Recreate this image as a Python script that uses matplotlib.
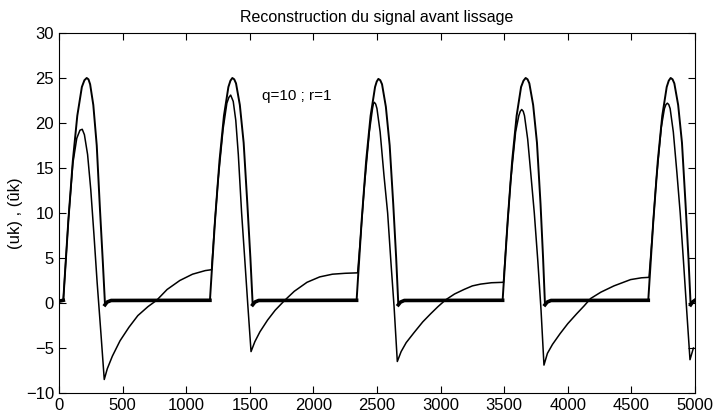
import matplotlib
matplotlib.use("Agg")
import matplotlib.pyplot as plt
import numpy as np

plt.rcParams['font.family'] = ['Liberation Sans', 'DejaVu Sans']

# true signal u(k): sample index / value
k_true = [0, 34, 46, 74, 109, 144, 180, 200, 218, 232, 245, 270, 297, 322, 345, 362, 378, 410,
          1187, 1199, 1227, 1262, 1297, 1332, 1348, 1363, 1378, 1392, 1422, 1452, 1481, 1505, 1523, 1540, 1570,
          2340, 2352, 2380, 2415, 2450, 2485, 2498, 2511, 2526, 2540, 2570, 2600, 2628, 2651, 2668, 2685, 2715,
          3488, 3500, 3528, 3563, 3598, 3633, 3652, 3669, 3684, 3698, 3728, 3758, 3786, 3806, 3821, 3838, 3868,
          4633, 4645, 4673, 4708, 4743, 4778, 4794, 4809, 4824, 4838, 4868, 4898, 4926, 4949, 4966, 4980, 5000]
u_true = [0.2, 0.3, 3.0, 9.2, 15.8, 20.8, 24.0, 24.75, 25.0, 24.85, 24.3, 22.0, 17.5, 10.5, 4.5, -0.2, 0.1, 0.28,
          0.3, 3.0, 9.2, 15.8, 20.8, 24.0, 24.7, 25.0, 24.85, 24.4, 22.0, 17.8, 11.0, 5.0, -0.2, 0.1, 0.28,
          0.3, 3.0, 9.2, 15.8, 20.8, 24.0, 24.6, 24.9, 24.75, 24.3, 21.8, 17.5, 11.0, 5.0, -0.2, 0.1, 0.28,
          0.3, 3.0, 9.2, 15.8, 20.8, 24.0, 24.7, 25.0, 24.85, 24.4, 22.0, 17.8, 11.0, 5.0, -0.2, 0.1, 0.28,
          0.3, 3.0, 9.2, 15.8, 20.8, 24.0, 24.7, 25.0, 24.85, 24.4, 22.0, 17.8, 11.0, 5.0, -0.2, 0.1, 0.3]

# reconstructed signal (u^k)
k_rec = [0, 34, 46, 74, 109, 140, 165, 183, 200, 225, 250, 275, 300, 330, 356,
         380, 420, 480, 550, 620, 700, 768, 850, 950, 1050, 1150, 1200,
         1222, 1250, 1290, 1320, 1336, 1350, 1370, 1390, 1410, 1436, 1460, 1485, 1510,
         1540, 1580, 1640, 1700, 1775, 1850, 1950, 2050, 2150, 2250, 2348,
         2372, 2400, 2440, 2465, 2472, 2479, 2490, 2500, 2525, 2555, 2584, 2610, 2635, 2660,
         2690, 2730, 2791, 2860, 2922, 2980, 3040, 3110, 3184, 3250, 3315, 3400, 3495,
         3520, 3550, 3590, 3615, 3627, 3638, 3650, 3660, 3685, 3710, 3737, 3765, 3790, 3813,
         3840, 3880, 3940, 4000, 4070, 4130, 4180, 4260, 4363, 4494, 4580, 4639,
         4662, 4695, 4735, 4760, 4772, 4783, 4794, 4805, 4830, 4858, 4884, 4910, 4935, 4961, 4988]
u_rec = [0.2, 0.3, 3.0, 9.2, 15.5, 18.3, 19.2, 19.3, 18.7, 16.5, 12.6, 7.6, 2.3, -3.4, -8.5,
         -7.3, -5.9, -4.2, -2.7, -1.4, -0.4, 0.3, 1.5, 2.5, 3.2, 3.6, 3.7,
         8.3, 13.5, 19.3, 22.2, 22.85, 23.1, 22.4, 20.3, 16.5, 10.0, 5.0, -0.3, -5.4,
         -4.3, -3.2, -1.9, -0.8, 0.3, 1.3, 2.3, 2.9, 3.2, 3.3, 3.35,
         7.5, 12.8, 19.0, 21.6, 22.15, 22.3, 22.1, 21.6, 19.0, 14.2, 10.0, 4.5, -0.5, -6.5,
         -5.4, -4.4, -3.3, -2.1, -1.2, -0.4, 0.35, 1.0, 1.5, 1.9, 2.1, 2.25, 2.3,
         7.5, 13.4, 19.0, 20.8, 21.3, 21.5, 21.3, 20.8, 18.2, 14.3, 10.0, 4.6, -0.8, -6.9,
         -5.6, -4.6, -3.4, -2.3, -1.2, -0.3, 0.5, 1.2, 1.9, 2.6, 2.8, 2.85,
         7.0, 13.5, 19.5, 21.6, 22.05, 22.2, 22.05, 21.6, 19.0, 14.5, 10.0, 4.6, -0.8, -6.3, -5.0]

x_ticks = list(range(0, 5001, 500))
y_ticks = list(range(-10, 31, 5))

fig = plt.figure(figsize=(7.28, 4.16), dpi=100)
ax = fig.add_axes([0.081, 0.0553, 0.8736, 0.8654])

ax.plot(k_true, u_true, color='black', linewidth=1.4)
# noisy flat parts of u(k) show as a thicker band
u_arr = np.array(u_true)
flat = np.where(np.abs(u_arr) < 0.5, u_arr, np.nan)
ax.plot(k_true, flat, color='black', linewidth=2.6)
ax.plot(k_rec, u_rec, color='black', linewidth=1.1)

ax.set_xlim(0, 5000)
ax.set_ylim(-10, 30)
ax.set_xticks(x_ticks)
ax.set_yticks(y_ticks)
ax.tick_params(direction='in', length=5, top=True, right=True, labelsize=12, width=0.8)
for s in ax.spines.values():
    s.set_linewidth(0.8)

ax.set_title("Reconstruction du signal avant lissage", fontsize=11.5, pad=8)
ax.set_ylabel("(uk) , (\u00fbk)", fontsize=12, labelpad=2)
ax.text(1600, 23, "q=10 ; r=1", fontsize=11, va='center')

fig.savefig("out.png", dpi=100)
